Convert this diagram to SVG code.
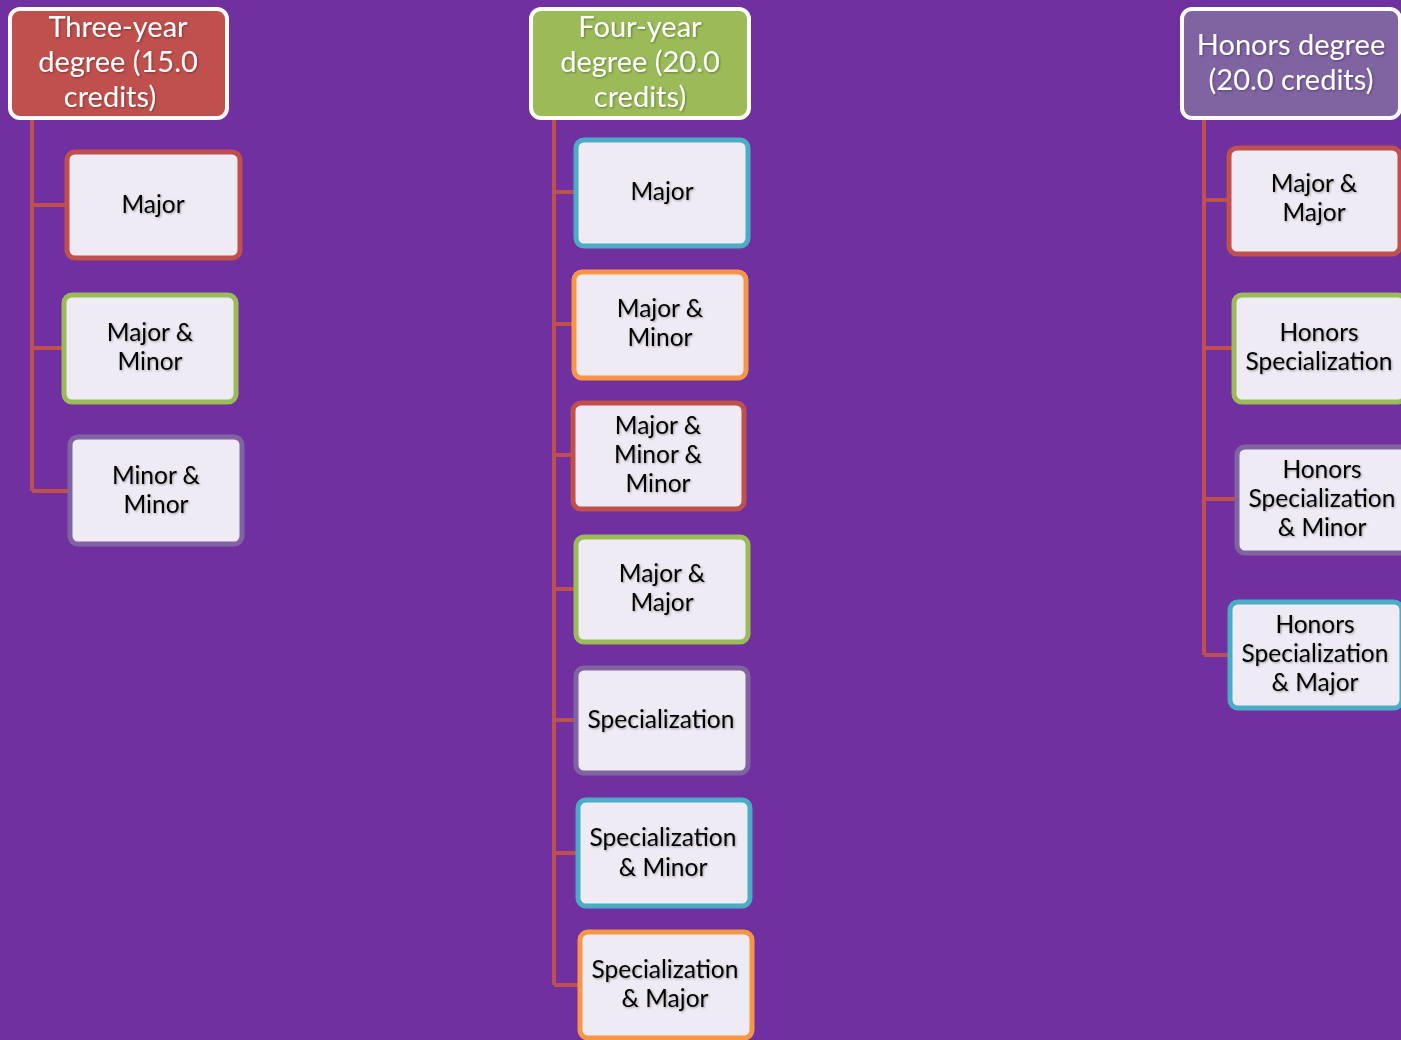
<svg xmlns="http://www.w3.org/2000/svg" width="1401" height="1040" viewBox="0 0 1401 1040">
<style>
.hdr{stroke:#FFFFFF;stroke-width:4}
.box{fill:#EFEBF4;stroke-width:5}
.ht{font-family:Lato,"Open Sans",sans-serif;font-size:29px;fill:#FFFFFF;text-anchor:middle;filter:url(#sh)}
.bt{font-family:Lato,"Open Sans",sans-serif;font-size:24.5px;fill:#000000;text-anchor:middle;filter:url(#sh)}
.red{stroke:#C0504D}.grn{stroke:#9BBB59}.pur{stroke:#8064A2}.cya{stroke:#4BACC6}.org{stroke:#F79646}
.con{stroke:#C0504D;stroke-width:4;fill:none}
</style>
<defs>
<filter id="sh" x="-10%" y="-20%" width="120%" height="140%">
<feDropShadow dx="1" dy="1" stdDeviation="0.8" flood-color="#000000" flood-opacity="0.35"/>
</filter>
</defs>
<rect width="1401" height="1040" fill="#7030A0"/>
<g id="connectors">
<path class="con" d="M32 118V491M32 205H67M32 348H64M32 491H70"/>
<path class="con" d="M554 118V985M554 192H576M554 324H574M554 455H573M554 589H576M554 720H576M554 853H578M554 985H580"/>
<path class="con" d="M1204 118V655M1204 200H1229M1204 348H1234M1204 499H1237M1204 655H1230"/>
</g>
<g id="h1"><rect class="hdr" x="10" y="9" width="217" height="109" rx="10" fill="#C0504D"/>
<text class="ht" x="118" y="37">Three-year</text><text class="ht" x="118" y="72">degree (15.0</text><text class="ht" x="110" y="107">credits)</text></g>
<g id="h2"><rect class="hdr" x="531" y="9" width="218" height="109" rx="10" fill="#9BBB59"/>
<text class="ht" x="640" y="37">Four-year</text><text class="ht" x="640" y="72">degree (20.0</text><text class="ht" x="640" y="107">credits)</text></g>
<g id="h3"><rect class="hdr" x="1182" y="9" width="218" height="109" rx="10" fill="#8064A2"/>
<text class="ht" x="1291" y="55">Honors degree</text><text class="ht" x="1291" y="90">(20.0 credits)</text></g>

<g id="c1a"><rect class="box red" x="67" y="152" width="173" height="106" rx="8"/><text class="bt" x="153" y="213">Major</text></g>
<g id="c1b"><rect class="box grn" x="64" y="295" width="172" height="107" rx="8"/><text class="bt" x="150" y="341">Major &amp;</text><text class="bt" x="150" y="370">Minor</text></g>
<g id="c1c"><rect class="box pur" x="70" y="437" width="172" height="107" rx="8"/><text class="bt" x="156" y="484">Minor &amp;</text><text class="bt" x="156" y="513">Minor</text></g>

<g id="c2a"><rect class="box cya" x="576" y="140" width="172" height="106" rx="8"/><text class="bt" x="662" y="200">Major</text></g>
<g id="c2b"><rect class="box org" x="574" y="272" width="172" height="106" rx="8"/><text class="bt" x="660" y="317">Major &amp;</text><text class="bt" x="660" y="346">Minor</text></g>
<g id="c2c"><rect class="box red" x="573" y="403" width="171" height="106" rx="8"/><text class="bt" x="658" y="434">Major &amp;</text><text class="bt" x="658" y="463">Minor &amp;</text><text class="bt" x="658" y="492">Minor</text></g>
<g id="c2d"><rect class="box grn" x="576" y="537" width="172" height="105" rx="8"/><text class="bt" x="662" y="582">Major &amp;</text><text class="bt" x="662" y="611">Major</text></g>
<g id="c2e"><rect class="box pur" x="576" y="668" width="172" height="105" rx="8"/><text class="bt" x="661" y="728">Specialization</text></g>
<g id="c2f"><rect class="box cya" x="578" y="800" width="172" height="106" rx="8"/><text class="bt" x="663" y="846">Specialization</text><text class="bt" x="663" y="876">&amp; Minor</text></g>
<g id="c2g"><rect class="box org" x="580" y="932" width="172" height="106" rx="8"/><text class="bt" x="665" y="978">Specialization</text><text class="bt" x="665" y="1007">&amp; Major</text></g>

<g id="c3a"><rect class="box red" x="1229" y="148" width="171" height="106" rx="8"/><text class="bt" x="1314" y="192">Major &amp;</text><text class="bt" x="1314" y="221">Major</text></g>
<g id="c3b"><rect class="box grn" x="1234" y="295" width="172" height="107" rx="8"/><text class="bt" x="1319" y="341">Honors</text><text class="bt" x="1319" y="370">Specialization</text></g>
<g id="c3c"><rect class="box pur" x="1237" y="447" width="172" height="106" rx="8"/><text class="bt" x="1322" y="478">Honors</text><text class="bt" x="1322" y="507">Specialization</text><text class="bt" x="1322" y="536">&amp; Minor</text></g>
<g id="c3d"><rect class="box cya" x="1230" y="602" width="172" height="106" rx="8"/><text class="bt" x="1315" y="633">Honors</text><text class="bt" x="1315" y="662">Specialization</text><text class="bt" x="1315" y="691">&amp; Major</text></g>
</svg>
